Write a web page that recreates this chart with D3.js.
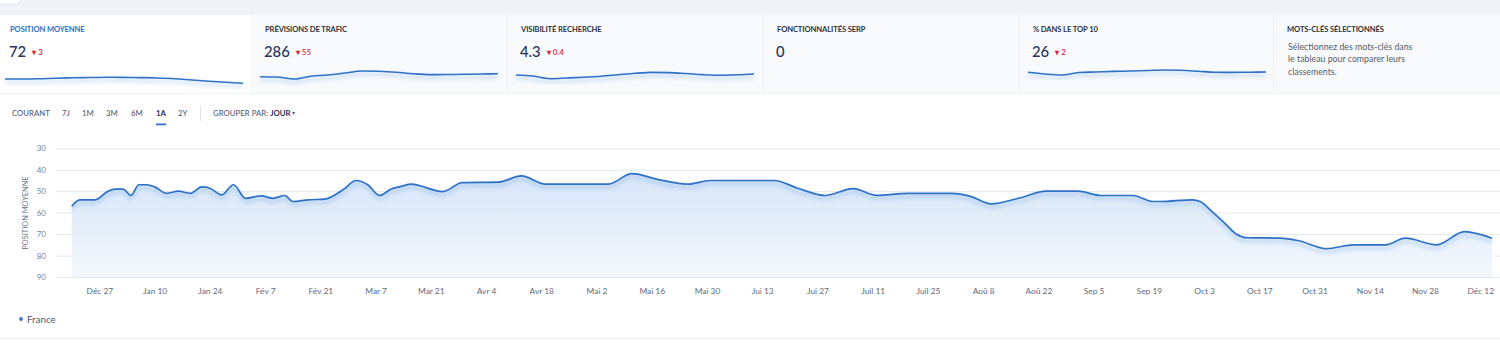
<!DOCTYPE html>
<html><head><meta charset="utf-8">
<script src="https://cdn.jsdelivr.net/npm/d3@7"></script>
<style>
body{margin:0;background:#fff;font-family:Lato,"Open Sans",sans-serif;}
svg{display:block}
</style>
</head><body>
<svg id="c" width="1500" height="343"></svg>
<script>
// ---------- data ----------
const cardTitles = ["POSITION MOYENNE","PRÉVISIONS DE TRAFIC","VISIBILITÉ RECHERCHE","FONCTIONNALITÉS SERP","% DANS LE TOP 10","MOTS-CLÉS SÉLECTIONNÉS"];
const cardValues = ["72","286","4.3","0","26",null];
const cardDeltas = ["3","55","0.4",null,"2",null];
const cardNote = ["Sélectionnez des mots-clés dans","le tableau pour comparer leurs","classements."];
const spark1 = [6,6,6.2,6.8,7.2,7.5,7.7,7.6,7.4,7,6.3,5,3.8,2.7,1.7];
const spark2 = [8.3,8,6,8.8,10,12,14,13.7,12.8,11.3,10.4,10.5,10.7,11,11.3];
const spark3 = [10,9,6.3,7,7.8,8.7,10.2,11.7,12.6,12.4,11.5,10.4,9.8,10.2,11];
const spark5 = [12.7,11,10,12.5,13,13.6,14,14.5,15,14.7,13.8,12.8,12.6,12.8,13];
const periods = ["COURANT","7J","1M","3M","6M","1A","2Y"];
const activePeriod = "1A";
const groupLabel = "GROUPER PAR:";
const groupValue = "JOUR";
const yLabel = "POSITION MOYENNE";
const seriesName = "France";
const dates = ["2021-12-20","2021-12-22","2021-12-26","2021-12-29","2021-12-31","2022-01-02","2022-01-04","2022-01-06","2022-01-08","2022-01-10","2022-01-13","2022-01-16","2022-01-19","2022-01-22","2022-01-24","2022-01-27","2022-01-30","2022-02-02","2022-02-06","2022-02-09","2022-02-12","2022-02-14","2022-02-18","2022-02-22","2022-02-27","2022-03-02","2022-03-05","2022-03-08","2022-03-11","2022-03-13","2022-03-16","2022-03-24","2022-03-29","2022-04-07","2022-04-13","2022-04-19","2022-05-05","2022-05-11","2022-05-18","2022-05-25","2022-05-31","2022-06-16","2022-06-22","2022-06-29","2022-07-06","2022-07-12","2022-07-20","2022-07-31","2022-08-05","2022-08-10","2022-08-17","2022-08-24","2022-09-01","2022-09-07","2022-09-15","2022-09-20","2022-09-22","2022-09-30","2022-10-02","2022-10-05","2022-10-08","2022-10-11","2022-10-14","2022-10-22","2022-10-27","2022-11-03","2022-11-10","2022-11-18","2022-11-23","2022-12-01","2022-12-08","2022-12-15"];
const positions = [57,54,54,50.2,49,49,52,47,47,48,51,50,51,48,48.6,51.7,47,53.3,52.2,53.3,52,54.8,54,53.7,49,45,47,52,49,48,46.7,50.2,46,45.8,42.9,46.7,46.7,41.8,44.7,46.7,45,45,48.6,52,48.8,51.9,51,51,52.5,55.9,53.3,50,50,52,52,54.8,54.8,54,54.8,59.5,64.5,69.8,71.7,71.9,73.1,76.8,75,75,71.9,75,68.8,71.9];
const yTicks = [30,40,50,60,70,80,90];
const xTickDates = ["2021-12-27","2022-01-10","2022-01-24","2022-02-07","2022-02-21","2022-03-07","2022-03-21","2022-04-04","2022-04-18","2022-05-02","2022-05-16","2022-05-30","2022-06-13","2022-06-27","2022-07-11","2022-07-25","2022-08-08","2022-08-22","2022-09-05","2022-09-19","2022-10-03","2022-10-17","2022-10-31","2022-11-14","2022-11-28","2022-12-12"];
const xTickLabels = ["Déc 27","Jan 10","Jan 24","Fév 7","Fév 21","Mar 7","Mar 21","Avr 4","Avr 18","Mai 2","Mai 16","Mai 30","Jui 13","Jui 27","Juil 11","Juil 25","Aoû 8","Aoû 22","Sep 5","Sep 19","Oct 3","Oct 17","Oct 31","Nov 14","Nov 28","Déc 12"];

// ---------- setup ----------
const svg = d3.select("#c");
const BLUE = "#2f72c8";
const defs = svg.append("defs");
const glow = defs.append("filter").attr("id","glow").attr("x","-5%").attr("y","-50%").attr("width","110%").attr("height","250%");
glow.append("feGaussianBlur").attr("in","SourceAlpha").attr("stdDeviation",2.2).attr("result","b");
glow.append("feOffset").attr("in","b").attr("dy",2.5).attr("result","o");
glow.append("feFlood").attr("flood-color","#4a8ee0").attr("flood-opacity",0.5);
glow.append("feComposite").attr("in2","o").attr("operator","in").attr("result","s");
const gm = glow.append("feMerge");
gm.append("feMergeNode").attr("in","s");
gm.append("feMergeNode").attr("in","SourceGraphic");
const grad = defs.append("linearGradient").attr("id","ag").attr("x1",0).attr("y1",0).attr("x2",0).attr("y2",1);
grad.append("stop").attr("offset","0%").attr("stop-color","#d6e5f7").attr("stop-opacity",1);
grad.append("stop").attr("offset","100%").attr("stop-color","#f4f8fd").attr("stop-opacity",1);

// top band + cards
svg.append("rect").attr("x",0).attr("y",0).attr("width",1500).attr("height",94).attr("fill","#f1f3f6");
svg.append("rect").attr("x",-4).attr("y",-6).attr("width",24).attr("height",10).attr("rx",3).attr("fill","#fff").attr("stroke","#dfe3e8");
const cardEdges = [0,251,507,763,1019,1273,1501];
cardTitles.forEach((t,i)=>{
  const x0 = cardEdges[i], x1 = cardEdges[i+1];
  const pad = i===0 ? 10 : 14;
  svg.append("rect").attr("x",x0+(i?1:0)).attr("y",15).attr("width",x1-x0-(i?1:0)).attr("height",78)
    .attr("fill", i===0 ? "#ffffff" : "#f9fafc");
  svg.append("text").attr("x",x0+pad).attr("y",32).text(t)
    .attr("font-size",7.6).attr("font-weight",700).attr("fill", i===0 ? "#2f6fc4" : "#2c3240").attr("letter-spacing","-0.1");
  if (cardValues[i] !== null) {
    const v = svg.append("text").attr("x",x0+pad-1).attr("y",56.5).text(cardValues[i])
      .attr("font-size",14.8).attr("font-weight",500).attr("fill","#29325a");
    if (cardDeltas[i] !== null) {
      const w = v.node().getComputedTextLength();
      svg.append("text").attr("x",x0+pad-1+w+6).attr("y",54.5).text("▾ "+cardDeltas[i])
        .attr("font-size",8).attr("font-weight",600).attr("fill","#d3263a").attr("xml:space","preserve");
    }
  }
});
cardNote.forEach((line,k)=>{
  svg.append("text").attr("x",1288).attr("y",50+k*12.3).text(line).attr("font-size",8.8).attr("fill","#535c6c");
});

// sparklines
const sy = d3.scaleLinear().domain([0,20]).range([85,65]);
[[spark1,5,243],[spark2,260,498],[spark3,516,754],[spark5,1028,1266]].forEach(([arr,a,b])=>{
  const sx = d3.scaleLinear().domain([0,arr.length-1]).range([a,b]);
  svg.append("path").datum(arr)
    .attr("d", d3.line().x((d,i)=>sx(i)).y(d=>sy(d)).curve(d3.curveMonotoneX))
    .attr("fill","none").attr("stroke",BLUE).attr("stroke-width",1.6).attr("filter","url(#glow)");
});

// toolbar
const periodX = [12,62,82,106,131,156,178];
periods.forEach((p,i)=>{
  const act = p===activePeriod;
  const t = svg.append("text").attr("x",periodX[i]).attr("y",116).text(p)
    .attr("font-size",7.8).attr("font-weight",act?700:500).attr("fill",act?"#29325a":"#55607a");
  if (act) {
    const w = t.node().getComputedTextLength();
    svg.append("rect").attr("x",periodX[i]).attr("y",123.5).attr("width",Math.max(w,8)).attr("height",1.8).attr("fill",BLUE);
  }
});
svg.append("line").attr("x1",200.5).attr("x2",200.5).attr("y1",106).attr("y2",121).attr("stroke","#dde1e7");
const gl = svg.append("text").attr("x",213).attr("y",116).text(groupLabel).attr("font-size",7.8).attr("font-weight",500).attr("fill","#55607a");
const gw = gl.node().getComputedTextLength();
const gv = svg.append("text").attr("x",213+gw+2).attr("y",116).text(groupValue).attr("font-size",7.8).attr("font-weight",700).attr("fill","#29325a");
const gvw = gv.node().getComputedTextLength();
svg.append("text").attr("x",213+gw+2+gvw+1.5).attr("y",115).text("▾").attr("font-size",6).attr("fill","#55607a");

// main chart
const parse = d3.utcParse("%Y-%m-%d");
const data = dates.map((d,i)=>({date:parse(d), v:positions[i]}));
const x = d3.scaleUtc().domain([parse("2021-12-16"), parse("2022-12-17")]).range([56,1500]);
const y = d3.scaleLinear().domain([30,90]).range([148.3,277]);

const yAxis = svg.append("g").attr("transform","translate(56,0)")
  .call(d3.axisLeft(y).tickValues(yTicks).tickSize(-1444).tickPadding(10));
yAxis.select(".domain").remove();
yAxis.selectAll(".tick line").attr("stroke","#e3e7ed");
yAxis.selectAll(".tick text").attr("font-size",8).attr("fill","#7a8494").attr("font-family","Lato, sans-serif");

const curve = d3.curveMonotoneX;
svg.append("path").datum(data)
  .attr("d", d3.area().x(d=>x(d.date)).y0(y(90)).y1(d=>y(d.v)).curve(curve))
  .attr("fill","url(#ag)");
svg.append("path").datum(data)
  .attr("d", d3.line().x(d=>x(d.date)).y(d=>y(d.v)).curve(curve))
  .attr("fill","none").attr("stroke",BLUE).attr("stroke-width",1.7).attr("filter","url(#glow)");

const xAxis = svg.append("g").attr("transform","translate(0,277)")
  .call(d3.axisBottom(x).tickValues(xTickDates.map(parse)).tickSize(0).tickPadding(11)
    .tickFormat((d,i)=>xTickLabels[i]));
xAxis.select(".domain").remove();
xAxis.selectAll(".tick text").attr("font-size",8.4).attr("fill","#5f6a7d").attr("font-family","Lato, sans-serif");

svg.append("text").attr("transform","translate(28,213) rotate(-90)").attr("text-anchor","middle")
  .text(yLabel).attr("font-size",7.4).attr("fill","#6b7688");

// legend
svg.append("circle").attr("cx",21).attr("cy",319).attr("r",1.9).attr("fill",BLUE);
svg.append("text").attr("x",27).attr("y",322.5).text(seriesName).attr("font-size",9.8).attr("fill","#4f5a6b");
svg.append("line").attr("x1",0).attr("x2",1500).attr("y1",338.5).attr("y2",338.5).attr("stroke","#eef0f3");
</script>
</body></html>
